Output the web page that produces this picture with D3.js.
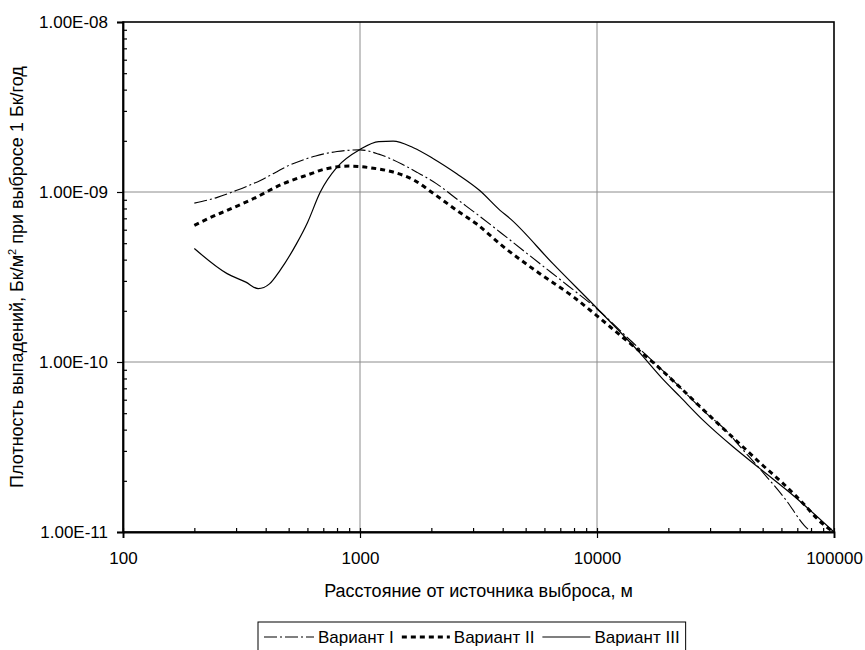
<!DOCTYPE html>
<html><head><meta charset="utf-8">
<script src="https://cdn.jsdelivr.net/npm/d3@7"></script>
<style>body{margin:0;background:#fff;} svg{display:block;font-family:"Liberation Sans",Arial,sans-serif;}</style>
</head><body><svg id="c" width="865" height="650"></svg>
<script>
// ---- data ----
const distI   = [200, 250, 300, 380, 500, 650, 800, 1000, 1200, 1500, 1750, 2100, 2600, 3200, 4200, 5700, 7500, 10000, 14000, 20000, 29000, 35000, 40000, 50000, 63000, 75000, 80000];
const valuesI = [8.6e-10, 9.3e-10, 1.02e-9, 1.17e-9, 1.43e-9, 1.63e-9, 1.73e-9, 1.77e-9, 1.67e-9, 1.46e-9, 1.30e-9, 1.12e-9, 8.95e-10, 7.2e-10, 5.35e-10, 3.82e-10, 2.83e-10, 2.05e-10, 1.32e-10, 8.3e-11, 4.97e-11, 3.96e-11, 3.2e-11, 2.25e-11, 1.53e-11, 1.09e-11, 1.0e-11];

const distII   = [200, 230, 275, 350, 475, 600, 720, 900, 1140, 1380, 1680, 2040, 2560, 3100, 4000, 5700, 8000, 10000, 12500, 17300, 21700, 30000, 40000, 50000, 60000, 70000, 93000, 100000];
const valuesII = [6.37e-10, 7.0e-10, 7.8e-10, 9.05e-10, 1.12e-9, 1.26e-9, 1.37e-9, 1.42e-9, 1.38e-9, 1.31e-9, 1.18e-9, 9.8e-10, 7.8e-10, 6.5e-10, 4.8e-10, 3.33e-10, 2.4e-10, 1.87e-10, 1.44e-10, 9.9e-11, 7.4e-11, 4.8e-11, 3.3e-11, 2.47e-11, 1.97e-11, 1.6e-11, 1.07e-11, 1.0e-11];

const distIII   = [200, 275, 330, 372, 415, 460, 540, 600, 680, 800, 1000, 1200, 1380, 1680, 2040, 2560, 3200, 3900, 4300, 6500, 10000, 15000, 19000, 22400, 28000, 37600, 48700, 67300, 100000];
const valuesIII = [4.65e-10, 3.31e-10, 2.95e-10, 2.70e-10, 2.88e-10, 3.46e-10, 4.97e-10, 6.6e-10, 1.0e-9, 1.40e-9, 1.78e-9, 1.98e-9, 1.99e-9, 1.82e-9, 1.57e-9, 1.28e-9, 1.02e-9, 7.8e-10, 6.97e-10, 3.8e-10, 2.07e-10, 1.15e-10, 7.9e-11, 6.25e-11, 4.55e-11, 3.16e-11, 2.36e-11, 1.64e-11, 1.0e-11];

const seriesNames = ["Вариант I", "Вариант II", "Вариант III"];
const xTickValues = [100, 1000, 10000, 100000];
const xTickLabels = ["100", "1000", "10000", "100000"];
const yTickValues = [1e-8, 1e-9, 1e-10, 1e-11];
const yTickLabels = ["1.00E-08", "1.00E-09", "1.00E-10", "1.00E-11"];
const xTitle = "Расстояние от источника выброса, м";
const yTitleA = "Плотность выпадений, Бк/м";
const yTitleSup = "2";
const yTitleB = " при выбросе 1 Бк/год";

// ---- layout ----
const L = 123, R = 834, T = 22, B = 532;
const svg = d3.select("#c");
const x = d3.scaleLog().domain([100, 100000]).range([L, R]);
const y = d3.scaleLog().domain([1e-11, 1e-8]).range([B, T]);

const minorX = [], minorY = [];
for (let e = 2; e <= 4; e++) for (let k = 2; k <= 9; k++) minorX.push(k * Math.pow(10, e));
for (let e = -11; e <= -9; e++) for (let k = 2; k <= 9; k++) minorY.push(k * Math.pow(10, e));

// gridlines
svg.append("g").selectAll("line").data(xTickValues.slice(1, -1)).join("line")
  .attr("x1", d => x(d)).attr("x2", d => x(d)).attr("y1", T).attr("y2", B)
  .attr("stroke", "#8c8c8c").attr("stroke-width", 1);
svg.append("g").selectAll("line").data(yTickValues.slice(1, -1)).join("line")
  .attr("y1", d => y(d)).attr("y2", d => y(d)).attr("x1", L).attr("x2", R)
  .attr("stroke", "#8c8c8c").attr("stroke-width", 1);

// frame
svg.append("rect").attr("x", L).attr("y", T).attr("width", R - L).attr("height", B - T)
  .attr("fill", "none").attr("stroke", "#000").attr("stroke-width", 1.6);

// axes
const fs = "17px";
const ff = "Liberation Sans, Arial, sans-serif";
const yAxis = svg.append("g").attr("transform", `translate(${L},0)`)
  .call(d3.axisLeft(y).tickValues(yTickValues).tickSize(6).tickPadding(9)
    .tickFormat(d => yTickLabels[yTickValues.indexOf(d)]));
yAxis.select(".domain").attr("stroke-width", 1.8);
yAxis.selectAll("text").attr("font-size", fs).attr("fill", "#000").attr("font-family", ff);
yAxis.selectAll(".tick line").attr("stroke-width", 1.2);

svg.append("g").attr("transform", `translate(${L},0)`)
  .call(d3.axisRight(y).tickValues(minorY).tickSize(4).tickFormat(""))
  .call(g => g.select(".domain").remove())
  .selectAll("line").attr("stroke-width", 1.2);

const xAxis = svg.append("g").attr("transform", `translate(0,${B})`)
  .call(d3.axisBottom(x).tickValues(xTickValues).tickSize(6).tickPadding(14)
    .tickFormat(d => xTickLabels[xTickValues.indexOf(d)]));
xAxis.select(".domain").attr("stroke-width", 1.8);
xAxis.selectAll("text").attr("font-size", fs).attr("fill", "#000").attr("font-family", ff);
xAxis.selectAll(".tick line").attr("stroke-width", 1.2);

svg.append("g").attr("transform", `translate(0,${B})`)
  .call(d3.axisTop(x).tickValues(minorX.concat(xTickValues)).tickSize(4).tickFormat(""))
  .call(g => g.select(".domain").remove())
  .selectAll("line").attr("stroke-width", 1.2);

// titles
svg.append("text").attr("x", (L + R) / 2).attr("y", 597).attr("text-anchor", "middle")
  .attr("font-size", "18px").text(xTitle);
const yt = svg.append("text").attr("transform", `translate(23,${(T + B) / 2}) rotate(-90)`)
  .attr("text-anchor", "middle").attr("font-size", "18px");
yt.append("tspan").text(yTitleA);
yt.append("tspan").attr("font-size", "11px").attr("dy", "-7").text(yTitleSup);
yt.append("tspan").attr("dy", "7").text(yTitleB);

// series
const styles = [
  { dash: "13,3,2,3", width: 1.1 },
  { dash: "5,4", width: 3 },
  { dash: null, width: 1.2 }
];
const series = [
  distI.map((d, i) => [d, valuesI[i]]),
  distII.map((d, i) => [d, valuesII[i]]),
  distIII.map((d, i) => [d, valuesIII[i]])
];
const line = d3.line().x(d => x(d[0])).y(d => y(d[1])).curve(d3.curveMonotoneX);
series.forEach((s, i) => {
  svg.append("path").datum(s).attr("d", line).attr("fill", "none")
    .attr("stroke", "#000").attr("stroke-width", styles[i].width)
    .attr("stroke-dasharray", styles[i].dash);
});

// legend
const lg = svg.append("g");
const box = lg.append("rect").attr("y", 622).attr("height", 40).attr("fill", "#fff")
  .attr("stroke", "#000").attr("stroke-width", 1);
const lineLens = [50, 48, 48];
let cx = 0;
seriesNames.forEach((n, i) => {
  const g = lg.append("g");
  g.append("line").attr("x1", cx).attr("x2", cx + lineLens[i]).attr("y1", 637).attr("y2", 637)
    .attr("stroke", "#000").attr("stroke-width", styles[i].width).attr("stroke-dasharray", styles[i].dash);
  const t = g.append("text").attr("x", cx + lineLens[i] + 4).attr("y", 643).attr("font-size", "17px").text(n);
  const w = t.node().getComputedTextLength();
  cx += lineLens[i] + 4 + w + 8;
});
const total = cx - 8;
lg.selectAll("g").attr("transform", `translate(264,0)`);
box.attr("x", 258).attr("width", total + 12);
</script></body></html>
